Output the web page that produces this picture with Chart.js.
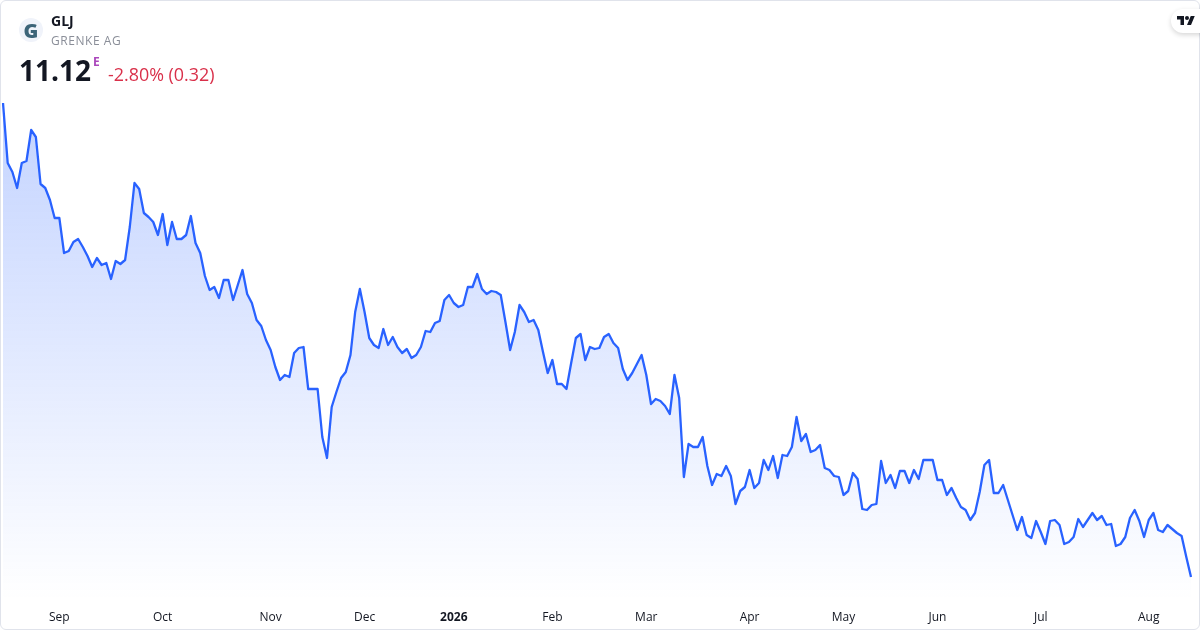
<!DOCTYPE html>
<html>
<head>
<meta charset="utf-8">
<script src="https://cdn.jsdelivr.net/npm/chart.js@4"></script>
<style>
html,body{margin:0;padding:0;background:#fff;}
body{width:1200px;height:630px;position:relative;overflow:hidden;font-family:"Open Sans",sans-serif;}
#card{position:absolute;left:0;top:0;width:1198px;height:628px;border:1px solid #e0e3eb;border-radius:6px;}
#c{position:absolute;left:0;top:0;}
.t{position:absolute;white-space:nowrap;line-height:1;}
#logo{position:absolute;left:19px;top:18px;width:24px;height:24px;border-radius:50%;background:#f0f3fa;color:#3c6478;font:800 20px/25px "Open Sans",sans-serif;text-align:center;}
#tv{position:absolute;left:1171px;top:9px;width:44px;height:24px;border-radius:12px;background:#fff;box-shadow:0 2px 5px rgba(0,0,0,.16);}
</style>
</head>
<body>
<div id="card"></div>
<canvas id="c" width="1200" height="630"></canvas>
<div id="logo">G</div>
<div class="t" style="left:51px;top:14px;font-size:14px;font-weight:700;color:#131722;">GLJ</div>
<div class="t" style="left:51px;top:35px;font-size:12px;letter-spacing:.55px;color:#8a8e98;">GRENKE AG</div>
<div class="t" style="left:19px;top:56px;font-size:28px;font-weight:700;color:#131722;">11.12</div>
<div class="t" style="left:93px;top:56px;font-size:12px;font-weight:700;color:#ab47bc;">E</div>
<div class="t" style="left:108px;top:66px;font-size:17.9px;color:#d9304a;">-2.80% (0.32)</div>
<div id="tv"><svg width="18" height="14" viewBox="0 0 36 28" style="position:absolute;left:6px;top:5px"><path fill="#131722" d="M14 22H7V11H0V4h14v18zM28 22h-8l7.5-18h8L28 22z"/><circle fill="#131722" cx="20" cy="8" r="4"/></svg></div>
<script>
const closes = [
14.912,14.432,14.360,14.232,14.432,14.448,14.696,14.640,14.264,14.232,
14.136,13.992,13.992,13.712,13.728,13.800,13.824,13.760,13.688,13.600,
13.672,13.616,13.632,13.504,13.648,13.624,13.656,13.920,14.272,14.224,
14.032,14.000,13.960,13.856,14.024,13.776,13.960,13.824,13.824,13.856,
14.008,13.792,13.712,13.528,13.416,13.440,13.352,13.496,13.496,13.336,
13.456,13.576,13.384,13.312,13.176,13.128,13.016,12.936,12.800,12.696,
12.736,12.720,12.912,12.952,12.960,12.624,12.624,12.624,12.240,12.072,
12.480,12.600,12.712,12.760,12.896,13.240,13.424,13.240,13.032,12.976,
12.952,13.104,12.976,13.040,12.960,12.912,12.944,12.872,12.896,12.960,
13.088,13.080,13.152,13.168,13.336,13.376,13.312,13.280,13.296,13.440,
13.440,13.544,13.424,13.384,13.408,13.400,13.376,13.160,12.936,13.080,
13.296,13.240,13.160,13.176,13.096,12.920,12.752,12.856,12.664,12.664,
12.624,12.832,13.032,13.064,12.856,12.960,12.944,12.952,13.040,13.064,
12.992,12.952,12.784,12.696,12.752,12.824,12.896,12.736,12.504,12.544,
12.528,12.488,12.424,12.736,12.552,11.920,12.184,12.160,12.160,12.240,
12.008,11.856,11.944,11.928,12.008,11.928,11.704,11.808,11.840,11.976,
11.832,11.872,12.056,11.976,12.088,11.912,12.096,12.088,12.160,12.400,
12.208,12.264,12.120,12.136,12.176,11.992,11.976,11.928,11.920,11.776,
11.808,11.952,11.904,11.664,11.656,11.696,11.704,12.048,11.872,11.936,
11.832,11.968,11.968,11.872,11.976,11.904,12.056,12.056,12.056,11.896,
11.896,11.776,11.832,11.752,11.680,11.656,11.576,11.632,11.800,12.016,
12.056,11.792,11.792,11.856,11.736,11.616,11.496,11.600,11.456,11.432,
11.568,11.480,11.384,11.568,11.576,11.536,11.384,11.400,11.440,11.584,
11.520,11.576,11.632,11.576,11.608,11.536,11.544,11.368,11.384,11.440,
11.592,11.656,11.568,11.440,11.576,11.632,11.496,11.480,11.536,11.504,
11.472,11.448,11.280,11.120];
const tickLabels = ["Sep","Oct","Nov","Dec","2026","Feb","Mar","Apr","May","Jun","Jul","Aug"];
const tickIndexes = [12,34,57,77,96,117,137,159,179,199,221,244];
const yMin = 10.936, yMax = 15.096;
const sessions = closes.map((_, i) => {
  const k = tickIndexes.indexOf(i);
  return k >= 0 ? tickLabels[k] : "";
});

new Chart(document.getElementById("c"), {
  type: "line",
  data: {
    labels: sessions,
    datasets: [{
      data: closes,
      borderColor: "#2962ff",
      borderWidth: 2.3,
      pointRadius: 0,
      tension: 0,
      fill: "start",
      borderJoinStyle: "round",
      backgroundColor(ctx) {
        const a = ctx.chart.chartArea;
        if (!a) return "rgba(41,98,255,0.28)";
        const g = ctx.chart.ctx.createLinearGradient(0, 103, 0, a.bottom);
        g.addColorStop(0, "rgba(41,98,255,0.28)");
        g.addColorStop(1, "rgba(41,98,255,0)");
        return g;
      }
    }]
  },
  options: {
    responsive: false,
    animation: false,
    devicePixelRatio: 1,
    layout: { padding: { left: 3, right: 9, top: 80, bottom: 0 } },
    plugins: { legend: { display: false }, tooltip: { enabled: false } },
    scales: {
      y: { display: false, min: yMin, max: yMax },
      x: {
        offset: false,
        grid: { display: false, drawTicks: false },
        border: { display: false },
        afterBuildTicks(s) { s.ticks = tickIndexes.map(v => ({ value: v })); },
        afterFit(s) { s.height = 30; },
        ticks: {
          autoSkip: false, maxRotation: 0, minRotation: 0, padding: 10,
          color: "#131722",
          font(c) { return { family: "Open Sans", size: 12, weight: tickLabels[c.index] === "2026" ? "700" : "400" }; },
          callback(v) { return tickLabels[tickIndexes.indexOf(v)]; }
        }
      }
    }
  }
});
</script>
</body>
</html>
